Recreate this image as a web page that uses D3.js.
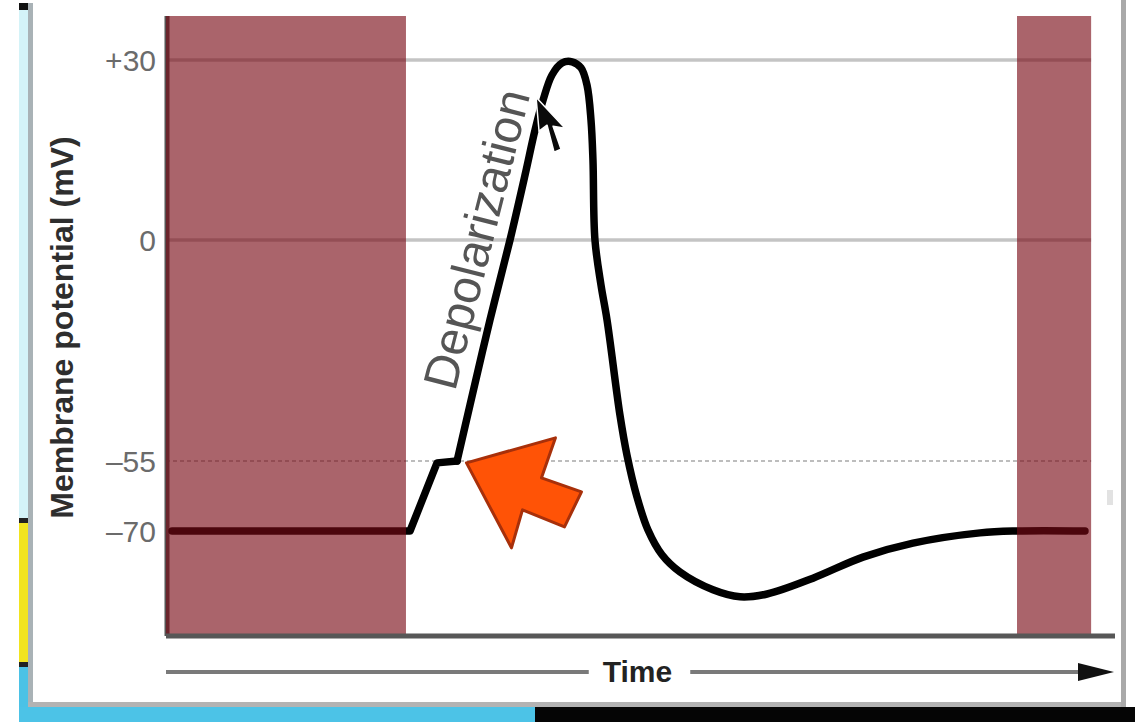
<!DOCTYPE html>
<html><head><meta charset="utf-8">
<script src="https://cdn.jsdelivr.net/npm/d3@7"></script>
<style>
body{margin:0;background:#fff;}
svg{display:block;font-family:"Liberation Sans",Arial,Helvetica,sans-serif;}
</style>
</head><body>
<svg id="c" width="1135" height="722"></svg>
<script>
// ---- data ----
const tickValues = [-70, -55, 0, 30];
const tickLabels = ["\u201370", "\u201355", "0", "+30"];
const solidGrid = [0, 30];
const dashedGrid = [-55];
// action potential trace: time (arbitrary units) and membrane potential (mV)
const timeMs = [0.64, 25.85, 28.71, 30.83, 32.20, 34.32, 36.44, 38.03, 39.09, 39.94, 40.89, 41.95, 43.01,
  43.96, 44.60, 45.02, 45.23, 45.44, 46.08, 46.72, 48.09, 48.83, 49.89, 51.06, 52.54, 54.45, 57.94,
  60.81, 63.67, 68.54, 73.83, 79.13, 86.23, 90.15, 97.35];
const potentialMv = [-70, -70, -55.4, -55, -41.1, -19.9, 0, 10.8, 18.3, 23.3, 27.5, 29.5, 29.7,
  28.7, 25.8, 20, 13.3, 0, -11.2, -19.9, -43.6, -53.5, -62.7, -69.8, -75.1, -78.8, -82.6,
  -84.1, -83.5, -80.1, -75.6, -72.6, -70.4, -70, -70];
const shadedStart = [0, 90.15];
const shadedEnd = [25.42, 98.0];
const thresholdIndex = 3; // end of the linear pre-threshold part
const yTitle = "Membrane potential (mV)";
const xTitle = "Time";
const phaseLabel = "Depolarization";

// ---- scales ----
const svg = d3.select("#c");
const x = d3.scaleLinear().domain([0, 100]).range([166, 1110]);
const y = d3.scaleLinear().domain([-92.5, -70, -55, 0, 30, 37.3]).range([636, 531, 461, 240, 60, 16]);

// ---- screen-capture frame ----
const deco = svg.append("g");
deco.append("rect").attr("x", 0).attr("y", 0).attr("width", 1135).attr("height", 722).attr("fill", "#ffffff");
deco.append("rect").attr("x", 19).attr("y", 3).attr("width", 9).attr("height", 515).attr("fill", "#d4f3f8");
deco.append("rect").attr("x", 19).attr("y", 3).attr("width", 9).attr("height", 7).attr("fill", "#111");
deco.append("rect").attr("x", 19).attr("y", 518).attr("width", 9).attr("height", 5).attr("fill", "#222");
deco.append("rect").attr("x", 19).attr("y", 523).attr("width", 9).attr("height", 139).attr("fill", "#f1e41f");
deco.append("rect").attr("x", 19).attr("y", 662).attr("width", 9).attr("height", 5).attr("fill", "#222");
deco.append("rect").attr("x", 19).attr("y", 667).attr("width", 9).attr("height", 55).attr("fill", "#4bc2e6");
deco.append("rect").attr("x", 28).attr("y", 3).attr("width", 5).attr("height", 704).attr("fill", "#a9b2b6");
deco.append("rect").attr("x", 28).attr("y", 702).attr("width", 1098).attr("height", 5).attr("fill", "#b3b3b3");
deco.append("rect").attr("x", 1121).attr("y", 0).attr("width", 5).attr("height", 707).attr("fill", "#a9a9a9");
deco.append("rect").attr("x", 19).attr("y", 707).attr("width", 516).attr("height", 15).attr("fill", "#4cc3e7");
deco.append("rect").attr("x", 535).attr("y", 707).attr("width", 600).attr("height", 15).attr("fill", "#050505");
deco.append("rect").attr("x", 1107).attr("y", 490).attr("width", 6).attr("height", 15).attr("fill", "#e2e2e2");

// ---- gridlines ----
const gridEnd = x(shadedEnd[1]);
svg.append("g").selectAll("line").data(solidGrid).join("line")
  .attr("x1", x(0)).attr("x2", gridEnd)
  .attr("y1", d => y(d)).attr("y2", d => y(d))
  .attr("stroke", "#c4c4c4").attr("stroke-width", 3.5);
svg.append("g").selectAll("line").data(dashedGrid).join("line")
  .attr("x1", x(0)).attr("x2", gridEnd)
  .attr("y1", d => y(d)).attr("y2", d => y(d))
  .attr("stroke", "#bdbdbd").attr("stroke-width", 2).attr("stroke-dasharray", "4,3");

// left axis line (under the shading)
svg.append("line").attr("x1", x(0) + 1).attr("x2", x(0) + 1)
  .attr("y1", y(37.3)).attr("y2", y(-92.5))
  .attr("stroke", "#555").attr("stroke-width", 5);

// ---- trace ----
const pts = timeMs.map((t, i) => [t, potentialMv[i]]);
const lineLin = d3.line().x(d => x(d[0])).y(d => y(d[1])).curve(d3.curveLinear);
const lineSmooth = d3.line().x(d => x(d[0])).y(d => y(d[1])).curve(d3.curveCatmullRom.alpha(0.5));
svg.append("path").attr("d", lineLin(pts.slice(0, thresholdIndex + 1)))
  .attr("fill", "none").attr("stroke", "#000").attr("stroke-width", 7.5)
  .attr("stroke-linejoin", "round").attr("stroke-linecap", "round");
svg.append("path").attr("d", lineSmooth(pts.slice(thresholdIndex)))
  .attr("fill", "none").attr("stroke", "#000").attr("stroke-width", 7.5)
  .attr("stroke-linejoin", "round").attr("stroke-linecap", "round");

// ---- shaded (semi-transparent) periods ----
svg.append("g").selectAll("rect").data(shadedStart).join("rect")
  .attr("x", d => x(d)).attr("width", (d, i) => x(shadedEnd[i]) - x(d))
  .attr("y", y(37.3)).attr("height", y(-92.5) - y(37.3) - 2)
  .attr("fill", "rgb(120,10,20)").attr("fill-opacity", 0.63);

// bottom axis line
svg.append("line").attr("x1", x(0)).attr("x2", x(100) + 5)
  .attr("y1", y(-92.5)).attr("y2", y(-92.5))
  .attr("stroke", "#575757").attr("stroke-width", 5);

// ---- y axis labels ----
const yAxis = d3.axisLeft(y).tickValues(tickValues).tickSize(0).tickPadding(0)
  .tickFormat((d, i) => tickLabels[i]);
const ga = svg.append("g").attr("transform", `translate(${x(0) - 10},0)`).call(yAxis);
ga.select(".domain").remove();
ga.selectAll("text").attr("font-family", '"Liberation Sans",Arial,sans-serif')
  .attr("font-size", 30).attr("fill", "#6b6b6b").attr("dy", "0.36em");

svg.append("text").attr("transform", "translate(73,327.5) rotate(-90)")
  .attr("text-anchor", "middle").attr("font-size", 32).attr("font-weight", "bold")
  .attr("fill", "#2e2e2e").text(yTitle);

// ---- time arrow ----
const tY = 672;
const tText = svg.append("text").attr("x", 637.5).attr("y", 682).attr("text-anchor", "middle")
  .attr("font-size", 30).attr("font-weight", "bold").attr("fill", "#222").text(xTitle);
const tw = tText.node().getComputedTextLength();
svg.append("line").attr("x1", x(0)).attr("x2", 637.5 - tw / 2 - 14).attr("y1", tY).attr("y2", tY)
  .attr("stroke", "#7a7a7a").attr("stroke-width", 4);
svg.append("line").attr("x1", 637.5 + tw / 2 + 18).attr("x2", 1082).attr("y1", tY).attr("y2", tY)
  .attr("stroke", "#7a7a7a").attr("stroke-width", 4);
svg.append("path").attr("d", `M1078,${tY - 9}L1114,${tY}L1078,${tY + 9}Z`).attr("fill", "#111");

// ---- "Depolarization" label ----
svg.append("text").attr("transform", `translate(${x(34.6)},${y(-0.8)}) rotate(-75.8)`)
  .attr("text-anchor", "middle").attr("font-size", 48).attr("fill", "#555").text(phaseLabel);

// ---- orange arrow pointing at threshold ----
const ax = x(31.83), ay = y(-55.4);
const arrowShape = [[0,0],[89,-25],[75,15],[115,29],[98,64],[56,47],[45,85]];
svg.append("path").attr("d", "M" + arrowShape.map(p => [ax + p[0], ay + p[1]].join(",")).join("L") + "Z")
  .attr("fill", "#ff5306").attr("stroke", "#a8300a").attr("stroke-width", 3).attr("stroke-linejoin", "round");

// ---- mouse cursor near the peak ----
const cx = x(39.2), cy = y(23.8);
const cursorShape = [[0,0],[3,34],[11,28],[18,55],[25,52],[17,29],[29,31]];
svg.append("path").attr("d", "M" + cursorShape.map(p => [cx + p[0], cy + p[1]].join(",")).join("L") + "Z")
  .attr("fill", "#0a0a0a").attr("stroke", "#fff").attr("stroke-width", 1.5).attr("stroke-linejoin", "round");
</script>
</body></html>
